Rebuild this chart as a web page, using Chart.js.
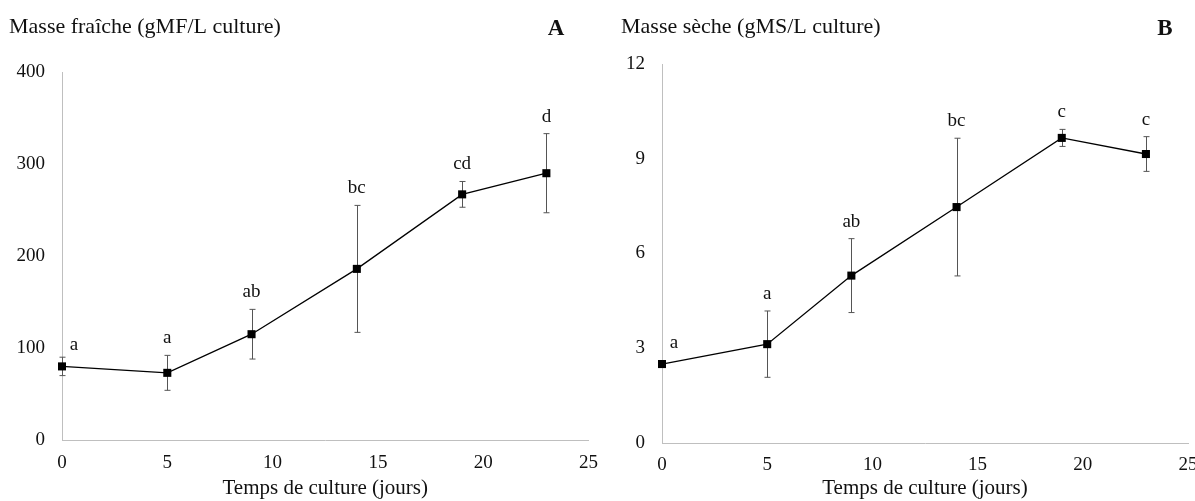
<!DOCTYPE html>
<html>
<head>
<meta charset="utf-8">
<script src="https://cdn.jsdelivr.net/npm/chart.js@4"></script>
<style>
body{margin:0;background:#fff;}
#wrap{position:relative;width:1195px;height:501px;overflow:hidden;}
.box{position:absolute;top:0;height:501px;}
</style>
</head>
<body>
<div id="wrap">
<div class="box" style="left:0;width:610px"><canvas id="chartA"></canvas></div>
<div class="box" style="left:600px;width:620px"><canvas id="chartB"></canvas></div>
</div>
<script>
// culture days
const days = [0, 5, 9, 14, 19, 23];

// A : fresh mass
const freshMass = [80, 73, 115, 186, 267, 290];
const freshErr = [10, 19, 27, 69, 14, 43];
const freshLetters = ["a", "a", "ab", "bc", "cd", "d"];

// B : dry mass
const dryMass = [2.5, 3.13, 5.3, 7.47, 9.66, 9.15];
const dryErr = [0, 1.05, 1.17, 2.18, 0.27, 0.55];
const dryLetters = ["a", "a", "ab", "bc", "c", "c"];

const xTicks = [0, 5, 10, 15, 20, 25];
const freshTicks = [0, 100, 200, 300, 400];
const dryTicks = [0, 3, 6, 9, 12];

const serif = "'Liberation Serif', 'Times New Roman', serif";

/* error bars + letters + panel titles */
const extras = {
  id: "extras",
  beforeDatasetsDraw(chart, args, opts) {
    const ctx = chart.ctx;
    const xs = chart.scales.x, ys = chart.scales.y;
    ctx.save();
    ctx.strokeStyle = "#555";
    ctx.lineWidth = 1;
    opts.values.forEach((v, i) => {
      const e = opts.errors[i];
      if (!e) return;
      const px = Math.round(xs.getPixelForValue(days[i])) + 0.5;
      const top = ys.getPixelForValue(v + e), bot = ys.getPixelForValue(v - e);
      ctx.beginPath();
      ctx.moveTo(px, top); ctx.lineTo(px, bot);
      ctx.moveTo(px - 3, top); ctx.lineTo(px + 3, top);
      ctx.moveTo(px - 3, bot); ctx.lineTo(px + 3, bot);
      ctx.stroke();
    });
    ctx.restore();
  },
  afterDraw(chart, args, opts) {
    const ctx = chart.ctx;
    const xs = chart.scales.x, ys = chart.scales.y;
    ctx.save();
    ctx.fillStyle = "#111";
    ctx.font = "19px " + serif;
    ctx.textBaseline = "middle";
    ctx.textAlign = "center";
    opts.values.forEach((v, i) => {
      const px = xs.getPixelForValue(days[i]);
      if (i === 0) {
        ctx.fillText(opts.letters[i], px + 12, ys.getPixelForValue(v) - 21);
      } else {
        ctx.fillText(opts.letters[i], px, ys.getPixelForValue(v + opts.errors[i]) - 17);
      }
    });
    ctx.textAlign = "left";
    ctx.font = "22px " + serif;
    ctx.fillText(opts.title, opts.titleX, 27);
    ctx.textAlign = "center";
    ctx.font = "bold 23px " + serif;
    ctx.fillText(opts.panel, opts.panelX, 29);
    ctx.restore();
  }
};

function makeChart(id, values, errors, letters, yTicks, yMax, title, titleX, panel, panelX, pad, xHeight, xPad) {
  return new Chart(document.getElementById(id), {
    type: "scatter",
    data: {
      datasets: [{
        data: days.map((d, i) => ({x: d, y: values[i]})),
        showLine: true,
        borderColor: "#000",
        borderWidth: 1.3,
        backgroundColor: "#000",
        pointStyle: "rect",
        pointRadius: 5.7,
        pointBorderWidth: 0,
        pointHoverRadius: 5.7,
        clip: false
      }]
    },
    options: {
      responsive: true,
      maintainAspectRatio: false,
      animation: false,
      layout: {padding: pad},
      plugins: {
        legend: {display: false},
        tooltip: {enabled: false},
        extras: {values, errors, letters, title, titleX, panel, panelX}
      },
      scales: {
        x: {
          type: "linear", min: 0, max: 25,
          afterBuildTicks: s => { s.ticks = xTicks.map(v => ({value: v})); },
          afterFit: s => { s.height = xHeight; },
          grid: {display: false, drawTicks: false},
          border: {display: true, color: "#bfbfbf", width: 1},
          ticks: {color: "#111", padding: xPad, maxRotation: 0, font: {family: serif, size: 19}},
          title: {display: true, text: "Temps de culture (jours)", color: "#111",
                  padding: {top: 0, bottom: 0}, font: {family: serif, size: 21}}
        },
        y: {
          min: 0, max: yMax,
          afterBuildTicks: s => { s.ticks = yTicks.map(v => ({value: v})); },
          afterFit: s => { s.width = 62; },
          grid: {display: false, drawTicks: false},
          border: {display: true, color: "#bfbfbf", width: 1},
          ticks: {color: "#111", padding: 17, font: {family: serif, size: 19}}
        }
      }
    },
    plugins: [extras]
  });
}

makeChart("chartA", freshMass, freshErr, freshLetters, freshTicks, 400,
  "Masse fraîche (gMF/L culture)", 9, "A", 556,
  {top: 72, left: 0, right: 21, bottom: 0}, 61, 12);

makeChart("chartB", dryMass, dryErr, dryLetters, dryTicks, 12,
  "Masse sèche (gMS/L culture)", 21, "B", 565,
  {top: 64, left: 0, right: 32, bottom: 0}, 58, 11);
</script>
</body>
</html>
